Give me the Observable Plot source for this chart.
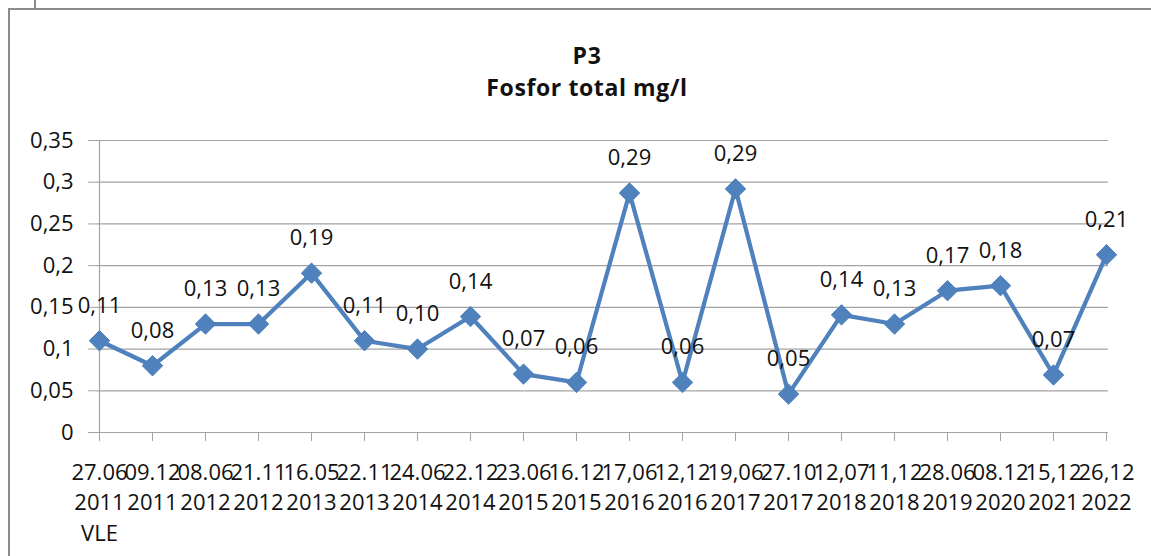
<!DOCTYPE html>
<html>
<head>
<meta charset="utf-8">
<script src="https://cdn.jsdelivr.net/npm/d3@7"></script>
<script src="https://cdn.jsdelivr.net/npm/@observablehq/plot@0.6"></script>
<style>
  html, body { margin: 0; padding: 0; background: #fff; overflow: hidden; }
  #wrap { position: relative; width: 1151px; height: 556px; font-family: "Open Sans", sans-serif; }
  #frame { position: absolute; left: 8px; top: 8px; width: 1160px; height: 570px; border: 2px solid #8c8c8c; box-sizing: border-box; }
  #stub { position: absolute; left: 34px; top: 0; width: 2px; height: 9px; background: #8c8c8c; }
  .title { position: absolute; left: 0; width: 1174px; text-align: center; font-weight: bold; font-size: 23px; line-height: 32px; letter-spacing: 0.6px; color: #111; }
  #chart { position: absolute; left: 0; top: 0; }
</style>
</head>
<body>
<div id="wrap">
  <div id="stub"></div>
  <div id="frame"></div>
  <div class="title" style="top:39px">P3<br>Fosfor total mg/l</div>
  <div id="chart"></div>
</div>
<script>
// Sampling dates (two lines as printed on the axis)
const dateLine1 = ["27.06","09.12","08.06","21.11","16.05","22.11","24.06","22.12","23.06","16.12",
                   "17,06","12,12","19,06","27.10","12,07","11,12","28.06","08.12","15,12","26,12"];
const dateLine2 = ["2011","2011","2012","2012","2013","2013","2014","2014","2015","2015",
                   "2016","2016","2017","2017","2018","2018","2019","2020","2021","2022"];
const firstNote = "VLE";
// Total phosphorus, mg/l
const phosphorus = [0.11, 0.08, 0.13, 0.13, 0.191, 0.11, 0.10, 0.139, 0.07, 0.06,
                    0.287, 0.06, 0.292, 0.046, 0.141, 0.13, 0.17, 0.176, 0.069, 0.213];
const yTicks = [0, 0.05, 0.1, 0.15, 0.2, 0.25, 0.3, 0.35];

const idx = phosphorus.map((_, i) => i);
const data = idx.map(i => ({
  i,
  value: phosphorus[i],
  label: phosphorus[i].toFixed(2).replace(".", ","),
  axisLabel: dateLine1[i] + "\n" + dateLine2[i] + (i === 0 ? "\n" + firstNote : "")
}));
const comma = v => String(v).replace(".", ",");
const gray = "#a3a3a3";
const blue = "#4f81bd";
const fs = 22;

const chart = Plot.plot({
  width: 1151,
  height: 556,
  marginLeft: 97,
  marginRight: 43,
  marginTop: 140,
  marginBottom: 124,
  style: { fontFamily: "'Open Sans', sans-serif", fontSize: fs + "px", color: "#111", background: "transparent" },
  x: { type: "point", domain: idx, padding: 0, label: null },
  y: { domain: [0, 0.35], label: null },
  marks: [
    Plot.gridY(yTicks.slice(1), { stroke: gray, strokeOpacity: 1, strokeWidth: 1.2 }),
    Plot.axisY(yTicks, { tickFormat: comma, tickSize: 9, tickPadding: 15, stroke: gray, strokeOpacity: 1, fontSize: fs, fill: "#111", label: null }),
    Plot.axisX(idx, { tickFormat: () => "", tickSize: 9, tickPadding: 0, stroke: gray, strokeOpacity: 1, label: null }),
    Plot.ruleX([0], { stroke: gray, strokeWidth: 1.2 }),
    Plot.ruleY([0], { stroke: gray, strokeWidth: 1.2 }),
    Plot.text(data, { x: "i", y: () => 0, text: "axisLabel", lineAnchor: "top", dy: 26, lineHeight: 1.38, fontSize: fs, fill: "#111" }),
    Plot.line(data, { x: "i", y: "value", stroke: blue, strokeWidth: 4.2, strokeLinejoin: "round" }),
    Plot.dot(data, { x: "i", y: "value", symbol: "diamond2", r: 9.2, fill: blue, stroke: blue, strokeWidth: 1 }),
    Plot.text(data, { x: "i", y: "value", text: "label", lineAnchor: "bottom", dy: -28, fontSize: fs, fill: "#111" })
  ]
});
document.getElementById("chart").appendChild(chart);
</script>
</body>
</html>
